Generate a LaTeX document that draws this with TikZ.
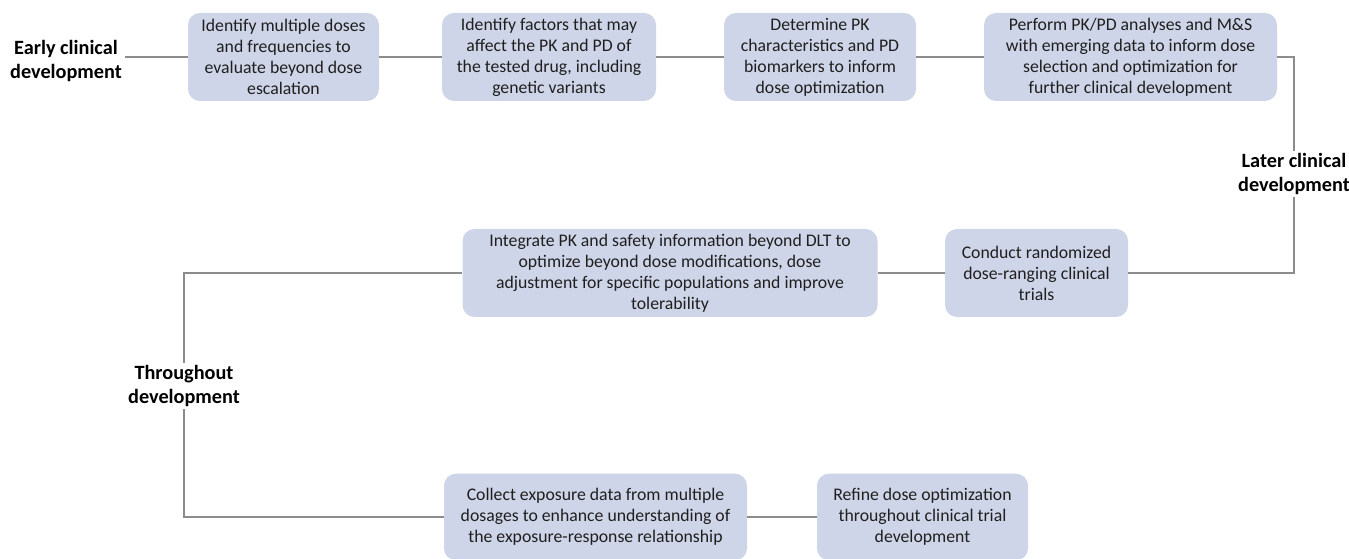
\documentclass[tikz,border=0pt]{standalone}
\usepackage{fontspec}
\setmainfont{Carlito}
\definecolor{boxfill}{RGB}{207,213,232}
\definecolor{linegray}{RGB}{140,140,140}

\begin{document}
\begin{tikzpicture}[
    x=0.75pt, y=-0.75pt,
    task/.style={rectangle, rounded corners=9pt, fill=boxfill, align=center, inner sep=2pt,
        text=black!88, font=\fontsize{13.3}{15.8}\selectfont},
    phase/.style={align=center, inner sep=2pt, font=\fontsize{15.2}{17.3}\selectfont\bfseries},
    link/.style={draw=linegray, line width=0.9pt}
]
    \useasboundingbox (0,0) rectangle (1349,559);

    % Fases
    \node[phase] (early) at (66,61) {Early clinical\\development};
    \node[phase] (later) at (1294,174) {Later clinical\\development};
    \node[phase] (through) at (184,386) {Throughout\\development};

    % Fila 1
    \node[task, minimum width=143.25pt, minimum height=66pt] (b1) at (283.5,57)
        {Identify multiple doses\\and frequencies to\\evaluate beyond dose\\escalation};
    \node[task, minimum width=160.5pt, minimum height=66pt] (b2) at (549,57)
        {Identify factors that may\\affect the PK and PD of\\the tested drug, including\\genetic variants};
    \node[task, minimum width=144pt, minimum height=66pt] (b3) at (820,57)
        {Determine PK\\characteristics and PD\\biomarkers to inform\\dose optimization};
    \node[task, minimum width=219.75pt, minimum height=66pt] (b4) at (1130.5,57)
        {Perform PK/PD analyses and M\&S\\with emerging data to inform dose\\selection and optimization for\\further clinical development};

    % Fila 2
    \node[task, minimum width=311.25pt, minimum height=66pt] (b5) at (670,273)
        {Integrate PK and safety information beyond DLT to\\optimize beyond dose modifications, dose\\adjustment for specific populations and improve\\tolerability};
    \node[task, minimum width=137.25pt, minimum height=66pt] (b6) at (1036.5,273)
        {Conduct randomized\\dose-ranging clinical\\trials};

    % Fila 3
    \node[task, minimum width=227.25pt, minimum height=65pt] (b7) at (595.5,517)
        {Collect exposure data from multiple\\dosages to enhance understanding of\\the exposure-response relationship};
    \node[task, minimum width=158.25pt, minimum height=65pt] (b8) at (922.5,517)
        {Refine dose optimization\\throughout clinical trial\\development};

    % Conectores
    \draw[link] (early.east |- b1.west) -- (b1.west);
    \draw[link] (b1.east) -- (b2.west);
    \draw[link] (b2.east) -- (b3.west);
    \draw[link] (b3.east) -- (b4.west);
    \draw[link] (b4.east) -| (later.north);
    \draw[link] (later.south) |- (b6.east);
    \draw[link] (b6.west) -- (b5.east);
    \draw[link] (b5.west) -| (through.north);
    \draw[link] (through.south) |- (b7.west);
    \draw[link] (b7.east) -- (b8.west);

\end{tikzpicture}
\end{document}
